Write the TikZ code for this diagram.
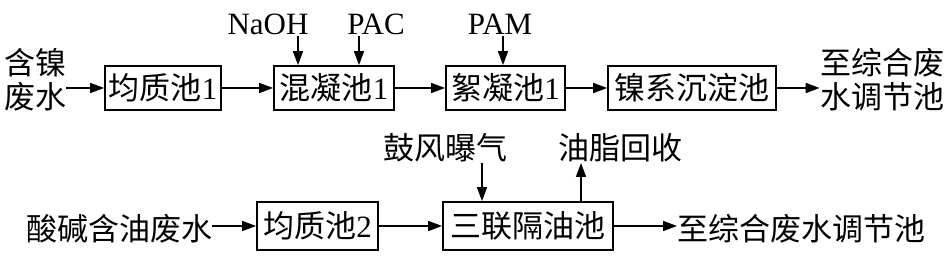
\documentclass[tikz,border=0pt]{standalone}
\usepackage{fontspec}
\setmainfont{Liberation Serif}
\newfontfamily\cjk{Noto Sans CJK SC}
\usetikzlibrary{arrows.meta}
\begin{document}
\begin{tikzpicture}[x=0.5pt,y=-0.5pt,
  every node/.style={font=\fontsize{15.5pt}{17pt}\selectfont, inner sep=0pt},
  pool/.style={draw, line width=0.9pt, minimum height=22pt},
  arr/.style={line width=0.8pt, -{Triangle[length=7pt,width=5pt]}}]
\useasboundingbox (0,0) rectangle (951,260);
% top row
\node[align=center] (in1) at (35,80) {\cjk 含镍\\\cjk 废水};
\node[pool, minimum width=58pt] (b1) at (163,88) {{\cjk 均质池}1};
\node[pool, minimum width=60pt] (b2) at (334,88) {{\cjk 混凝池}1};
\node[pool, minimum width=59.5pt] (b3) at (505.5,88) {{\cjk 絮凝池}1};
\node[pool, minimum width=84pt] (b4) at (692,88) {\cjk 镍系沉淀池};
\node[align=center] (out1) at (882,80) {\cjk 至综合废\\\cjk 水调节池};
\node (naoh) at (268,24) {NaOH};
\node (pac) at (376,24) {PAC};
\node (pam) at (500,24) {PAM};
\coordinate (a1) at (298,36);
\coordinate (a2) at (359,36);
\coordinate (a3) at (503,36);
\draw[arr] (in1.east |- b1) -- (b1.west);
\draw[arr] (b1) -- (b2);
\draw[arr] (b2) -- (b3);
\draw[arr] (b3) -- (b4);
\draw[arr] (b4.east) -- (out1.west |- b4);
\draw[arr] (a1) -- (a1 |- b2.north);
\draw[arr] (a2) -- (a2 |- b2.north);
\draw[arr] (a3) -- (a3 |- b3.north);
% bottom row
\node (in2) at (119,229) {\cjk 酸碱含油废水};
\node[pool, minimum width=60.5pt, minimum height=24pt] (c1) at (317.5,226) {{\cjk 均质池}2};
\node[pool, minimum width=85pt, minimum height=24pt] (c2) at (528,226) {\cjk 三联隔油池};
\node[anchor=west] (out2) at (677,229) {\cjk 至综合废水调节池};
\node (air) at (445,148) {\cjk 鼓风曝气};
\node (oil) at (620,148) {\cjk 油脂回收};
\coordinate (d1) at (482,163);
\coordinate (d2) at (581,163);
\draw[arr] (in2.east |- c1) -- (c1.west);
\draw[arr] (c1) -- (c2);
\draw[arr] (c2.east) -- (out2.west |- c2);
\draw[arr] (d1) -- (d1 |- c2.north);
\draw[arr] (d2 |- c2.north) -- (d2);
\end{tikzpicture}
\end{document}
